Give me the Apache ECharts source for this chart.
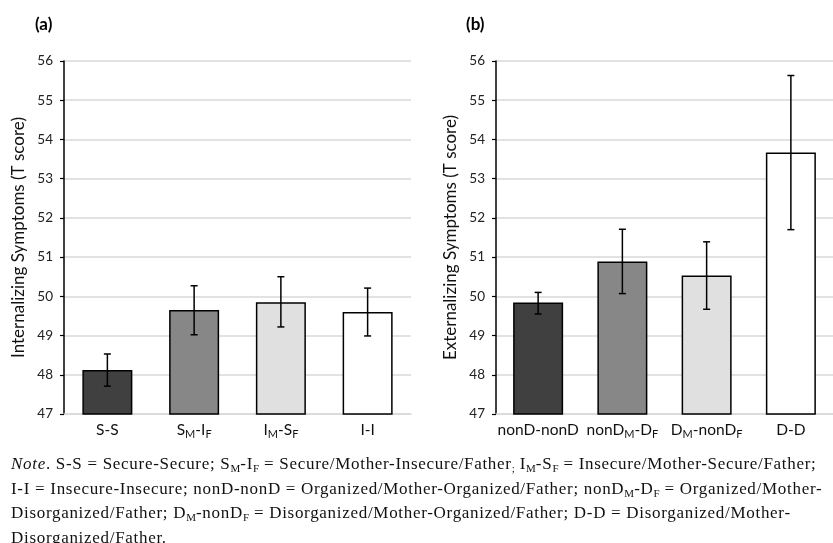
<!DOCTYPE html>
<html>
<head>
<meta charset="utf-8">
<script src="https://cdn.jsdelivr.net/npm/echarts@6/dist/echarts.min.js"></script>
<style>
  html, body { margin: 0; padding: 0; background: #fff; }
  #wrap { position: relative; width: 833px; height: 543px; overflow: hidden; }
  #chart { position: absolute; left: 0; top: 0; width: 833px; height: 543px; }
  #note { position: absolute; left: 11px; top: 452px; font-family: "Liberation Serif", "Times New Roman", serif;
          font-size: 17px; letter-spacing: 0.7px; line-height: 24.5px; color: #111; white-space: nowrap; }
  #note sub { font-size: 11px; vertical-align: -3px; line-height: 0; letter-spacing: 0; }
</style>
</head>
<body>
<div id="wrap">
  <div id="chart"></div>
  <div id="note">
    <i>Note</i>. S-S = Secure-Secure; S<sub>M</sub>-I<sub>F</sub> = Secure/Mother-Insecure/Father<sub>;</sub> I<sub>M</sub>-S<sub>F</sub> = Insecure/Mother-Secure/Father;<br>
    I-I = Insecure-Insecure; nonD-nonD = Organized/Mother-Organized/Father; nonD<sub>M</sub>-D<sub>F</sub> = Organized/Mother-<br>
    Disorganized/Father; D<sub>M</sub>-nonD<sub>F</sub> = Disorganized/Mother-Organized/Father; D-D = Disorganized/Mother-<br>
    Disorganized/Father.
  </div>
</div>
<script>
// ---- data ----
const categoriesA = ['S-S', 'S{s|M}-I{s|F}', 'I{s|M}-S{s|F}', 'I-I'];
const meansA = [48.12, 49.65, 49.85, 49.60];
const errLowA = [47.71, 49.02, 49.22, 48.99];
const errHighA = [48.53, 50.27, 50.50, 50.21];

const categoriesB = ['nonD-nonD', 'nonD{s|M}-D{s|F}', 'D{s|M}-nonD{s|F}', 'D-D'];
const meansB = [49.84, 50.89, 50.53, 53.67];
const errLowB = [49.55, 50.07, 49.67, 51.70];
const errHighB = [50.10, 51.71, 51.39, 55.63];

const barColors = ['#404040', '#878787', '#e0e0e0', '#ffffff'];
const yTicks = { min: 47, max: 56, interval: 1 };
const titleA = 'Internalizing Symptoms (T score)';
const titleB = 'Externalizing Symptoms (T score)';

const FONT = 'Lato';
const chart = echarts.init(document.getElementById('chart'), null, { renderer: 'canvas' });

function xAxis(idx, cats) {
  return {
    type: 'category', gridIndex: idx, data: cats,
    axisLine: { show: true, lineStyle: { color: '#d9d9d9', width: 1.5 } },
    axisTick: { show: false },
    axisLabel: {
      interval: 0, color: '#111', fontFamily: FONT, fontSize: 15.5, margin: 6,
      formatter: v => '{n|' + v.replace(/\{s\|([^}]*)\}/g, '}{s|$1}{n|') + '}',
      rich: {
        n: { fontFamily: FONT, fontSize: 15.5, lineHeight: 20, color: '#111' },
        s: { fontFamily: FONT, fontSize: 11, lineHeight: 12, verticalAlign: 'bottom', color: '#111' }
      }
    }
  };
}
function yAxis(idx, name) {
  return {
    type: 'value', gridIndex: idx, min: yTicks.min, max: yTicks.max, interval: yTicks.interval,
    name: name, nameLocation: 'middle', nameGap: 37, nameRotate: 90,
    nameTextStyle: { fontFamily: FONT, fontSize: 17, color: '#111' },
    axisLine: { show: true, lineStyle: { color: '#000', width: 1.5 } },
    axisTick: { show: true, length: 4, lineStyle: { color: '#000', width: 1.2 } },
    axisLabel: { color: '#222', fontFamily: FONT, fontSize: 13.5, margin: 11 },
    splitLine: { show: true, lineStyle: { color: '#d9d9d9', width: 1.5 } }
  };
}
function barSeries(idx, means) {
  return {
    type: 'bar', xAxisIndex: idx, yAxisIndex: idx, barWidth: 50,
    data: means.map((v, i) => ({ value: v, itemStyle: { color: barColors[i] } })),
    itemStyle: { borderColor: '#000', borderWidth: 1.5 },
    silent: true, animation: false
  };
}
function errSeries(idx, lows, highs) {
  return {
    type: 'custom', xAxisIndex: idx, yAxisIndex: idx, silent: true, animation: false, z: 10,
    data: lows.map((l, i) => [i, l, highs[i]]),
    renderItem: (params, api) => {
      const lo = api.coord([api.value(0), api.value(1)]);
      const hi = api.coord([api.value(0), api.value(2)]);
      const w = 3.5;
      const st = { stroke: '#000', lineWidth: 1.5 };
      return {
        type: 'group', children: [
          { type: 'line', shape: { x1: hi[0], y1: hi[1], x2: lo[0], y2: lo[1] }, style: st },
          { type: 'line', shape: { x1: hi[0] - w, y1: hi[1], x2: hi[0] + w, y2: hi[1] }, style: st },
          { type: 'line', shape: { x1: lo[0] - w, y1: lo[1], x2: lo[0] + w, y2: lo[1] }, style: st }
        ]
      };
    }
  };
}

chart.setOption({
  animation: false,
  backgroundColor: '#fff',
  grid: [
    { left: 64, top: 61, width: 347, height: 353 },
    { left: 496, top: 61, width: 346, height: 353 }
  ],
  graphic: [
    { type: 'text', left: 35, top: 16, style: { text: '(a)', font: 'bold 17px ' + FONT, fill: '#000' } },
    { type: 'text', left: 466, top: 16, style: { text: '(b)', font: 'bold 17px ' + FONT, fill: '#000' } }
  ],
  xAxis: [xAxis(0, categoriesA), xAxis(1, categoriesB)],
  yAxis: [yAxis(0, titleA), yAxis(1, titleB)],
  series: [
    barSeries(0, meansA), errSeries(0, errLowA, errHighA),
    barSeries(1, meansB), errSeries(1, errLowB, errHighB)
  ]
});
</script>
</body>
</html>
